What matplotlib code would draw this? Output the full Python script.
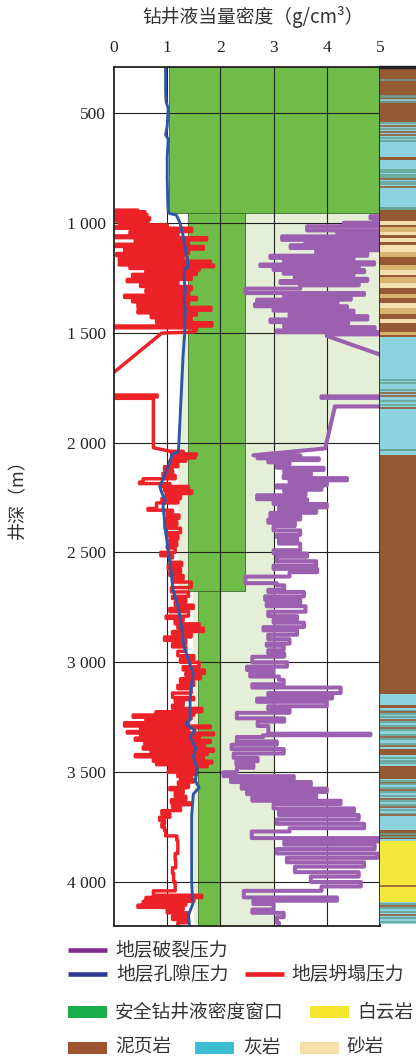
import numpy as np
import matplotlib.pyplot as plt
from matplotlib.patches import Rectangle
from matplotlib.lines import Line2D

plt.rcParams['font.family'] = ['Liberation Serif', 'Noto Sans CJK SC', 'DejaVu Sans']
CJK = ['Noto Sans CJK SC', 'DejaVu Sans']

# ---------------------------------------------------
# data
# ---------------------------------------------------

x_ticks = [0, 1, 2, 3, 4, 5]
depth_ticks = [500, 1000, 1500, 2000, 2500, 3000, 3500, 4000]
depth_labels = ["500", "1 000", "1 500", "2 000", "2 500", "3 000", "3 500", "4 000"]

# safe mud window (dark green blocks)
win_top = [290, 957, 2675]
win_bot = [957, 2675, 4200]
win_lo = [1.03, 1.40, 1.58]
win_hi = [5.0, 2.47, 2.0]

# light green band
band_depth = [957, 1500, 1501, 1829, 1838, 2027, 2062, 2675, 2676, 4200]
band_left = [1.40, 1.40, 1.25, 1.22, 1.22, 1.21, 1.20, 1.20, 1.47, 1.50]
band_right = [5.0, 5.0, 5.0, 5.0, 4.19, 3.97, 3.0, 3.0, 3.0, 3.0]

# pore pressure
pore_depth = [290, 400, 450, 480, 560, 600, 620, 700, 800, 900, 950, 958, 965, 1000,
              1030, 1060, 1100, 1150, 1200, 1210, 1260, 1300, 1350, 1400, 1450, 1500,
              1600, 1700, 1800, 1900, 2000, 2040, 2055, 2095, 2150, 2200, 2230, 2260,
              2290, 2330, 2390, 2490, 2600, 2670, 2750, 2840, 2930, 2990, 3050, 3100,
              3170, 3260, 3280, 3310, 3340, 3390, 3430, 3480, 3540, 3570, 3600, 3700,
              3800, 3900, 4000, 4100, 4150, 4200]
pore_val = [0.97, 0.97, 0.98, 1.02, 1.00, 0.97, 1.02, 1.00, 1.00, 1.01, 1.02, 1.05, 1.17, 1.24,
            1.27, 1.30, 1.33, 1.36, 1.40, 1.33, 1.32, 1.34, 1.32, 1.34, 1.33, 1.33,
            1.30, 1.28, 1.26, 1.24, 1.22, 1.21, 1.09, 1.04, 0.95, 0.86, 0.90, 0.96,
            0.92, 0.94, 0.96, 1.02, 1.08, 1.11, 1.21, 1.27, 1.32, 1.40, 1.49, 1.46,
            1.43, 1.43, 1.35, 1.52, 1.43, 1.54, 1.49, 1.56, 1.53, 1.60, 1.49, 1.46,
            1.46, 1.46, 1.46, 1.48, 1.40, 1.42]

# collapse pressure
coll_depth = [943, 945, 950, 958, 963, 972, 978, 985, 992, 1000, 1010, 1018, 1025, 1040,
              1048, 1060, 1068, 1078, 1085, 1098, 1108, 1120, 1130, 1140, 1150, 1163,
              1175, 1185, 1192, 1200, 1208, 1215, 1225, 1235, 1245, 1258, 1268, 1280,
              1290, 1305, 1315, 1330, 1340, 1350, 1360, 1372, 1385, 1398, 1410, 1420,
              1432, 1445, 1455, 1470, 1478, 1490, 1497, 1502, 1740, 1784, 1793, 1799,
              1806, 2024, 2040, 2046, 2052, 2058, 2064, 2070, 2076, 2085, 2095, 2110,
              2125, 2140, 2150, 2165, 2180, 2187, 2192, 2200, 2210, 2220, 2232, 2242,
              2255, 2265, 2275, 2300, 2308, 2315, 2330, 2345, 2360, 2375, 2390, 2410,
              2425, 2440, 2455, 2470, 2480, 2500, 2515, 2525, 2545, 2560, 2575, 2590,
              2605, 2620, 2635, 2660, 2680, 2700, 2710, 2725, 2740, 2755, 2770, 2790,
              2800, 2810, 2825, 2838, 2845, 2860, 2870, 2885, 2900, 2915, 2930, 2950,
              2970, 2985, 3000, 3020, 3035, 3050, 3060, 3075, 3090, 3105, 3120, 3140,
              3160, 3170, 3180, 3195, 3210, 3225, 3232, 3240, 3250, 3258, 3265, 3275,
              3290, 3298, 3305, 3315, 3322, 3330, 3338, 3345, 3355, 3365, 3375, 3385,
              3395, 3405, 3412, 3420, 3430, 3440, 3450, 3458, 3466, 3475, 3485, 3495,
              3500, 3510, 3520, 3528, 3535, 3545, 3555, 3570, 3580, 3595, 3610, 3625,
              3640, 3648, 3660, 3675, 3690, 3705, 3720, 3735, 3750, 3765, 3790, 3810,
              3870, 3900, 3935, 3960, 4000, 4040, 4060, 4070, 4078, 4088, 4095, 4105,
              4115, 4125, 4140, 4155, 4170, 4185, 4200]
coll_val = [0.0, 0.45, 0.0, 0.58, 0.0, 0.62, 0.05, 0.67, 0.0, 0.64, 0.1, 1.0, 0.0, 1.46,
            0.3, 1.2, 0.0, 1.74, 0.4, 1.4, 0.0, 1.68, 0.2, 1.4, 0.05, 1.3,
            0.1, 1.81, 0.1, 1.87, 0.3, 1.6, 0.6, 1.55, 0.35, 1.45, 0.25, 1.2,
            0.5, 1.45, 0.6, 1.4, 0.2, 1.55, 0.35, 1.4, 0.45, 1.82, 0.45, 1.55,
            0.7, 1.45, 0.8, 1.84, 0.0, 1.55, 1.5, 0.9, -0.3, -0.05, 0.81, -0.05,
            0.74, 0.74, 1.06, 1.3, 1.08, 1.55, 1.15, 1.52, 1.1, 1.35, 1.05, 1.2,
            0.95, 1.1, 0.92, 1.15, 0.55, 0.48, 1.05, 0.9, 1.4, 0.95, 1.46, 0.98,
            1.25, 0.9, 1.2, 0.8, 0.64, 1.1, 1.0, 1.22, 0.98, 1.18, 0.96, 1.25,
            1.0, 1.2, 1.05, 1.18, 1.0, 1.15, 0.88, 1.1, 1.05, 1.27, 1.02, 1.25,
            1.05, 1.3, 1.1, 1.45, 1.08, 1.4, 1.1, 1.35, 1.15, 1.49, 1.05, 1.4,
            0.98, 1.3, 1.15, 1.6, 1.2, 1.68, 1.1, 1.45, 0.95, 1.35, 1.1, 1.35,
            1.2, 1.5, 1.25, 1.6, 1.3, 1.7, 1.35, 1.62, 1.25, 1.5, 1.2, 1.45,
            1.1, 1.5, 1.15, 1.3, 1.1, 1.65, 0.79, 1.5, 0.36, 1.45, 0.6, 1.4,
            0.2, 1.81, 0.5, 1.4, 0.25, 1.87, 0.5, 1.6, 0.4, 1.81, 0.58, 1.7,
            0.55, 1.87, 0.7, 1.75, 0.4, 1.68, 0.74, 1.84, 0.8, 1.75, 1.05, 1.55,
            1.02, 1.55, 1.2, 1.46, 1.25, 1.49, 1.21, 1.4, 1.05, 1.3, 1.15, 1.35,
            1.08, 1.46, 1.1, 1.25, 0.9, 1.05, 0.86, 0.95, 0.9, 0.95, 0.97, 1.18,
            1.2, 1.15, 1.16, 1.10, 1.12, 1.15, 0.74, 1.65, 0.6, 1.5, 0.55, 1.35,
            0.45, 1.3, 1.0, 1.4, 1.1, 1.38, 1.2]
coll_straight = [(1497, 1784), (1806, 2040)]

# fracture pressure
frac_depth = [970, 980, 986, 995, 1000, 1010, 1016, 1035, 1042, 1055, 1062, 1078, 1084,
              1095, 1102, 1115, 1125, 1135, 1150, 1160, 1168, 1180, 1190, 1197, 1205,
              1215, 1225, 1232, 1242, 1255, 1265, 1275, 1285, 1300, 1320, 1328, 1340,
              1350, 1360, 1370, 1380, 1390, 1400, 1415, 1425, 1440, 1452, 1462, 1475,
              1490, 1498, 1508, 1515, 1600, 1700, 1790, 1797, 1803, 1836, 1838, 2027,
              2058, 2065, 2072, 2080, 2090, 2100, 2115, 2125, 2135, 2150, 2162, 2172,
              2180, 2195, 2205, 2215, 2225, 2240, 2258, 2265, 2280, 2295, 2305, 2320,
              2335, 2350, 2365, 2380, 2400, 2420, 2430, 2445, 2460, 2490, 2505, 2520,
              2540, 2560, 2575, 2590, 2610, 2640, 2650, 2670, 2680, 2700, 2715, 2730,
              2745, 2770, 2790, 2805, 2820, 2840, 2855, 2875, 2895, 2915, 2925, 2945,
              2960, 2975, 3000, 3020, 3035, 3050, 3065, 3080, 3100, 3115, 3140, 3150,
              3165, 3180, 3200, 3215, 3230, 3255, 3270, 3290, 3325, 3332, 3340, 3360, 3375,
              3395, 3415, 3435, 3450, 3465, 3480, 3500, 3518, 3530, 3545, 3560, 3575,
              3590, 3600, 3615, 3630, 3645, 3665, 3680, 3695, 3715, 3735, 3755, 3770,
              3800, 3815, 3830, 3850, 3870, 3890, 3910, 3930, 3955, 3975, 4000, 4020,
              4040, 4070, 4085, 4100, 4125, 4140, 4160, 4185, 4200]
frac_val = [5.3, 4.82, 5.3, 4.9, 5.3, 4.32, 5.3, 3.63, 5.3, 4.2, 5.3, 3.16, 5.3,
            3.6, 5.3, 3.32, 5.2, 3.8, 4.76, 2.94, 4.5, 3.2, 4.89, 2.75, 4.6,
            3.0, 4.70, 3.19, 4.5, 3.4, 4.76, 3.13, 4.6, 3.5, 2.47, 4.70, 3.2,
            4.45, 2.69, 4.2, 2.65, 4.38, 3.0, 4.5, 3.3, 4.76, 2.94, 4.4, 3.2,
            4.9, 3.06, 5.1, 4.0, 5.0, 5.6, 5.3, 3.9, 5.3, 5.3, 4.15, 3.97,
            2.62, 3.5, 2.7, 3.85, 2.9, 3.3, 3.06, 3.94, 3.2, 3.7, 3.19, 4.38,
            3.3, 4.0, 3.06, 3.9, 3.2, 3.6, 2.69, 3.63, 3.0, 4.0, 3.1, 3.8,
            2.94, 3.5, 2.9, 3.4, 3.0, 3.5, 3.06, 3.44, 3.1, 3.5, 3.0, 3.63,
            3.06, 3.8, 3.0, 3.82, 3.3, 2.47, 3.06, 3.2, 2.9, 3.57, 2.84, 3.5,
            2.87, 3.6, 2.9, 3.44, 3.0, 3.57, 2.81, 3.44, 2.9, 3.3, 2.87, 3.19,
            2.9, 3.2, 2.6, 3.25, 2.5, 3.0, 2.56, 3.1, 3.19, 2.6, 4.26, 2.9,
            4.1, 2.69, 4.0, 2.9, 3.3, 2.31, 3.2, 2.7, 2.9, 4.82, 2.8, 2.31, 3.06,
            2.21, 3.19, 2.25, 2.7, 2.3, 2.62, 2.31, 2.06, 3.38, 2.2, 3.7, 2.4,
            4.0, 2.5, 3.8, 2.6, 4.26, 3.0, 4.51, 3.1, 4.6, 3.06, 4.70, 3.3,
            2.59, 5.0, 3.2, 4.9, 3.06, 4.95, 3.25, 4.7, 3.4, 4.6, 3.7, 4.64,
            3.9, 2.44, 4.19, 2.62, 3.0, 2.6, 3.19, 3.06, 3.1]
frac_straight = [(1515, 1790), (1838, 2058)]

# lithology column: blocks and thin lines
litho_top = [290, 425, 480, 541, 647, 700, 715, 784, 845, 929, 944,
             990, 1010, 1018, 1041, 1056, 1071, 1086, 1102, 1132, 1155, 1193, 1215,
             1238, 1246, 1276, 1299, 1322, 1344, 1367, 1390, 1413, 1436, 1458, 1496,
             1511, 1521, 2030, 2040, 2058, 3143, 3196, 3210, 3393, 3424, 3470, 3530,
             3705, 3765, 3803, 3811, 4092]
litho_bot = [425, 480, 541, 647, 700, 715, 784, 845, 929, 944, 990,
             1010, 1018, 1041, 1056, 1071, 1086, 1102, 1132, 1155, 1193, 1215, 1238,
             1246, 1276, 1299, 1322, 1344, 1367, 1390, 1413, 1436, 1458, 1496, 1511,
             1521, 2030, 2040, 2058, 3143, 3196, 3210, 3393, 3424, 3470, 3530, 3705,
             3765, 3803, 3811, 4092, 4190]
litho_kind = ["shale", "shale", "shale", "lime", "lime", "shale", "lime", "lime", "lime", "thin", "shale",
              "sand2", "shale", "sand", "sand2", "shale", "sand2", "shale", "sand2", "sand", "shale", "sand", "sand2",
              "shale", "sand", "sand2", "shale", "sand", "shale", "sand2", "sand", "shale", "sand2", "shale", "sand",
              "shale", "lime", "thin", "lime", "shale", "lime", "shale", "lime", "shale", "lime", "shale", "lime",
              "lime", "shale", "lime", "dolo", "lime"]

thin_depth = [350, 423, 428, 440, 452, 465, 548, 560, 575, 585, 600, 615, 630, 758, 770,
              782, 790, 800, 815, 825, 838, 1715, 1730, 1760, 1775, 1790, 1810, 1830,
              1845, 3220, 3228, 3235, 3250, 3262, 3270, 3290, 3300, 3310, 3330, 3340,
              3350, 3370, 3380, 3435, 3450, 3460, 3540, 3548, 3555, 3570, 3580, 3590,
              3610, 3620, 3630, 3650, 3660, 3670, 3690, 3695, 3780, 3795, 4016, 4100,
              4110, 4120, 4135, 4150, 4165, 4180]
thin_kind = ["thin", "thin", "thin", "lime", "thin", "shale", "thin", "shale", "thin", "shale", "shale", "thin", "thin", "thin", "thin",
             "thin", "thin", "shale", "thin", "thin", "shale", "thin", "thin", "thin", "shale", "shale", "thin", "thin",
             "shale", "thin", "shale", "thin", "thin", "shale", "thin", "thin", "shale", "thin", "thin", "shale",
             "thin", "thin", "shale", "thin", "thin", "thin", "thin", "shale", "thin", "thin", "shale", "thin",
             "thin", "shale", "thin", "thin", "shale", "thin", "thin", "shale", "thin", "thin", "shale", "thin",
             "shale", "thin", "thin", "shale", "thin", "thin"]

litho_color = {
    "shale": "#955a33",
    "lime": "#8dd3df",
    "sand": "#d8b36e",
    "sand2": "#f3e0b0",
    "dolo": "#f6e83a",
    "thin": "#67a293",
}

GREEN = "#6fbd48"
LIGHT = "#e5eed6"
RED = "#ec2229"
BLUE = "#2f57a9"
PURPLE = "#9c60b1"


def log_path(depth, val, straight):
    # log curves: a value change is drawn as a horizontal jump at the sample depth,
    # except inside the given depth ranges, where points are joined directly
    xs, ys = [val[0]], [depth[0]]
    for i in range(len(depth) - 1):
        d0, d1 = depth[i], depth[i + 1]
        direct = any(a <= d0 and d1 <= b for a, b in straight)
        if not direct:
            xs.append(val[i + 1])
            ys.append(d0)
        xs.append(val[i + 1])
        ys.append(d1)
    return xs, ys


# ---------------------------------------------------
# figure
# ---------------------------------------------------

W, H = 416, 1059
fig = plt.figure(figsize=(W / 100, H / 100), dpi=100)

ax_l, ax_r, ax_t, ax_b = 114, 380, 66.7, 926
ax = fig.add_axes([ax_l / W, 1 - ax_b / H, (ax_r - ax_l) / W, (ax_b - ax_t) / H])
ax.set_xlim(0, 5)
ax.set_ylim(4200, 290)

for t, b, lo, hi in zip(win_top, win_bot, win_lo, win_hi):
    ax.add_patch(Rectangle((lo, t), hi - lo, b - t, facecolor=GREEN,
                           edgecolor="#3d6b2a", linewidth=0.6, zorder=2))

ax.fill_betweenx(band_depth, band_left, band_right, color=LIGHT, linewidth=0, zorder=1)

for v in x_ticks[1:-1]:
    ax.axvline(v, color="#222222", lw=0.8, zorder=3)
for d in depth_ticks:
    ax.axhline(d, color="#222222", lw=0.8, zorder=3)

fx, fy = log_path(frac_depth, frac_val, frac_straight)
ax.plot(fx, fy, color=PURPLE, lw=2.9, zorder=4)
cx, cy = log_path(coll_depth, coll_val, coll_straight)
ax.plot(cx, cy, color=RED, lw=2.5, zorder=5)
ax.plot(pore_val, pore_depth, color=BLUE, lw=2.1, zorder=6)

ax.xaxis.tick_top()
ax.set_xticks(x_ticks)
ax.set_xticklabels([str(v) for v in x_ticks])
ax.set_yticks(depth_ticks)
ax.set_yticklabels(depth_labels)
ax.tick_params(axis="both", length=0, labelsize=12.5, colors="#222222")
ax.tick_params(axis="x", pad=8)
ax.tick_params(axis="y", pad=6)
for s in ax.spines.values():
    s.set_linewidth(1.3)
    s.set_color("#222222")
    s.set_zorder(8)

# lithology column
lax = fig.add_axes([ax_r / W, 1 - ax_b / H, 1 - ax_r / W, (ax_b - ax_t) / H])
lax.set_xlim(0, 1)
lax.set_ylim(4200, 290)
for t, b, k in zip(litho_top, litho_bot, litho_kind):
    lax.add_patch(Rectangle((0, t), 1, b - t, facecolor=litho_color[k], linewidth=0))
for d, k in zip(thin_depth, thin_kind):
    lax.axhline(d, color=litho_color[k], lw=1.2)
lax.axis("off")
lax.plot([0, 1], [290, 290], color="#222222", lw=2.5, clip_on=False)

# titles
fig.text(253 / W, 1 - 17 / H, "钻井液当量密度（g/cm³）", family=CJK, fontsize=13.5,
         ha="center", va="center", color="#333333")
fig.text(18 / W, 1 - 495 / H, "井深（m）", family=CJK, fontsize=13, rotation=90,
         ha="center", va="center", color="#333333")

# ---------------------------------------------------
# legend
# ---------------------------------------------------

leg = fig.add_axes([0, 0, 1, 1], zorder=-1)
leg.set_xlim(0, W)
leg.set_ylim(H, 0)
leg.axis("off")

line_items = [
    (68, 950, "#7f2e8f", "地层破裂压力", 115),
    (68, 974, "#2b3990", "地层孔隙压力", 116),
    (245, 974, "#ed1c24", "地层坍塌压力", 291),
]
for x0, y0, c, label, tx in line_items:
    leg.add_line(Line2D([x0, x0 + 39], [y0, y0], color=c, lw=3.3, solid_capstyle="butt"))
    leg.text(tx, y0, label, family=CJK, fontsize=13.5, va="center", ha="left", color="#333333")

patch_items = [
    (68, 1011.5, "#1aad4b", "安全钻井液密度窗口", 115),
    (310, 1011.5, "#f6e52b", "白云岩", 357),
    (68, 1047.5, "#9d5231", "泥页岩", 115),
    (195, 1047.5, "#3bbfd4", "灰岩", 243),
    (300, 1047.5, "#f4dfab", "砂岩", 347),
]
for x0, y0, c, label, tx in patch_items:
    leg.add_patch(Rectangle((x0, y0 - 6), 39, 12, facecolor=c, linewidth=0))
    leg.text(tx, y0, label, family=CJK, fontsize=13.5, va="center", ha="left", color="#333333")

fig.savefig("out.png", dpi=100)
